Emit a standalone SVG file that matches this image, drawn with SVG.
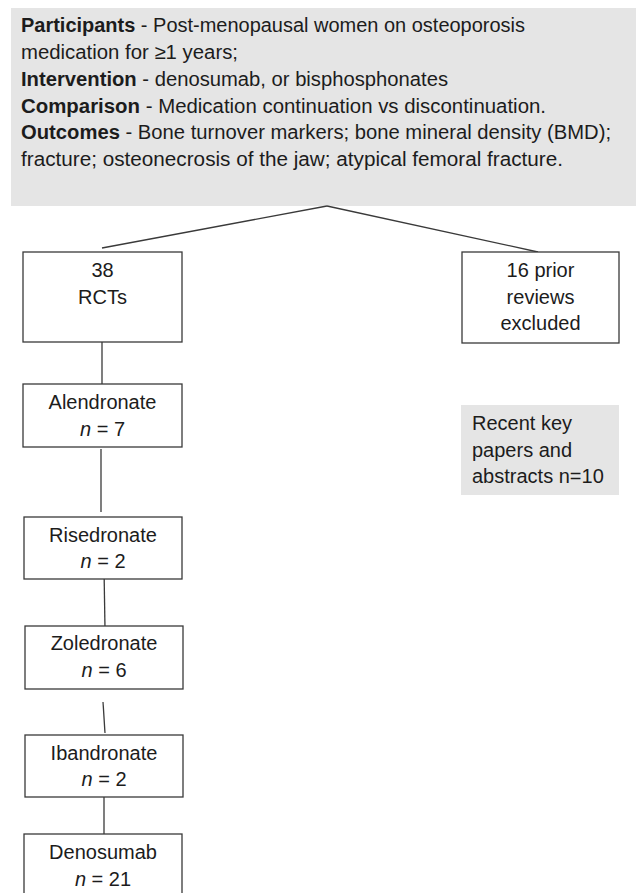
<svg xmlns="http://www.w3.org/2000/svg" width="636" height="893" viewBox="0 0 636 893">
<style>
text{font-family:"Liberation Sans",Arial,sans-serif;font-size:20px;fill:#1c1c1c}
.b{font-weight:bold}
.i{font-style:italic}
.c{text-anchor:middle}
.box{fill:#ffffff;stroke:#3a3a3a;stroke-width:1.3}
.grey{fill:#e5e5e5;stroke:none}
.ln{stroke:#3a3a3a;stroke-width:1.3;fill:none}
</style>
<rect width="636" height="893" fill="#ffffff"/>
<g id="pico">
<rect class="grey" x="11" y="8" width="625" height="198"/>
<text x="21" y="32" textLength="504" lengthAdjust="spacingAndGlyphs"><tspan class="b">Participants</tspan> - Post-menopausal women on osteoporosis</text>
<text x="21" y="59" textLength="217" lengthAdjust="spacingAndGlyphs">medication for ≥1 years;</text>
<text x="21" y="86" textLength="427" lengthAdjust="spacingAndGlyphs"><tspan class="b">Intervention</tspan> - denosumab, or bisphosphonates</text>
<text x="21" y="113" textLength="525" lengthAdjust="spacingAndGlyphs"><tspan class="b">Comparison</tspan> - Medication continuation vs discontinuation.</text>
<text x="21" y="139" textLength="590" lengthAdjust="spacingAndGlyphs"><tspan class="b">Outcomes</tspan> - Bone turnover markers; bone mineral density (BMD);</text>
<text x="21" y="166" textLength="542" lengthAdjust="spacingAndGlyphs">fracture; osteonecrosis of the jaw; atypical femoral fracture.</text>
</g>
<g id="connectors">
<line class="ln" x1="327" y1="206" x2="102" y2="248"/>
<line class="ln" x1="327" y1="206" x2="538" y2="252"/>
<line class="ln" x1="102" y1="342" x2="102" y2="384"/>
<line class="ln" x1="101" y1="449" x2="101" y2="512"/>
<line class="ln" x1="104" y1="568" x2="105" y2="629"/>
<line class="ln" x1="103" y1="702" x2="105" y2="733"/>
<line class="ln" x1="104" y1="797" x2="104" y2="834"/>
</g>
<g id="rcts">
<rect class="box" x="23" y="252" width="159" height="90"/>
<text class="c" x="102.5" y="277">38</text>
<text class="c" x="102.5" y="304">RCTs</text>
</g>
<g id="excluded">
<rect class="box" x="462" y="252" width="157" height="91"/>
<text class="c" x="540.5" y="277">16 prior</text>
<text class="c" x="540.5" y="304">reviews</text>
<text class="c" x="540.5" y="330">excluded</text>
</g>
<g id="recent">
<rect class="grey" x="461" y="405" width="158" height="90"/>
<text x="472" y="430">Recent key</text>
<text x="472" y="457">papers and</text>
<text x="472" y="483">abstracts n=10</text>
</g>
<g id="alendronate">
<rect class="box" x="23" y="384" width="159" height="63"/>
<text class="c" x="102.5" y="409">Alendronate</text>
<text class="c" x="102.5" y="436"><tspan class="i">n</tspan> = 7</text>
</g>
<g id="risedronate">
<rect class="box" x="24" y="517" width="158" height="62"/>
<text class="c" x="103" y="542">Risedronate</text>
<text class="c" x="103" y="568"><tspan class="i">n</tspan> = 2</text>
</g>
<g id="zoledronate">
<rect class="box" x="25" y="626" width="158" height="63"/>
<text class="c" x="104" y="650">Zoledronate</text>
<text class="c" x="104" y="677"><tspan class="i">n</tspan> = 6</text>
</g>
<g id="ibandronate">
<rect class="box" x="25" y="735" width="158" height="62"/>
<text class="c" x="104" y="760">Ibandronate</text>
<text class="c" x="104" y="786"><tspan class="i">n</tspan> = 2</text>
</g>
<g id="denosumab">
<rect class="box" x="24" y="834" width="158" height="70"/>
<text class="c" x="103" y="859">Denosumab</text>
<text class="c" x="103" y="886"><tspan class="i">n</tspan> = 21</text>
</g>
</svg>
